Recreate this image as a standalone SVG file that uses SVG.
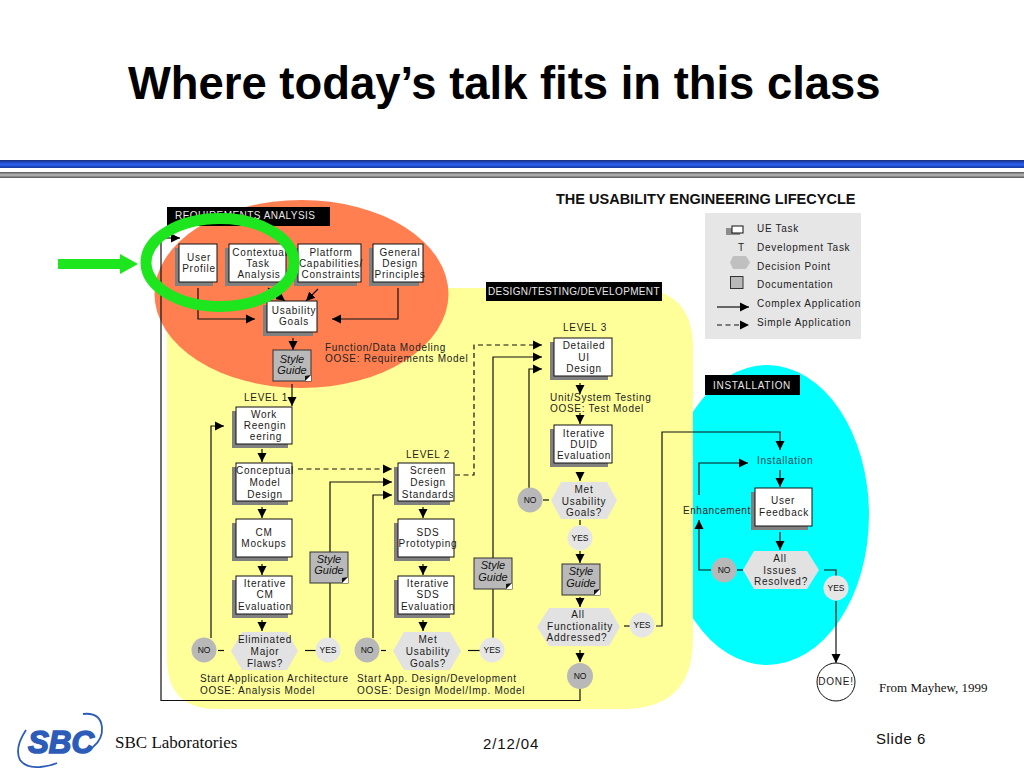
<svg xmlns="http://www.w3.org/2000/svg" width="1024" height="768" viewBox="0 0 1024 768">
<style>
text{font-family:"Liberation Sans",Arial,sans-serif}
.t{font-size:10px;letter-spacing:.75px;text-anchor:middle;fill:#1a1a1a}
.l{font-size:10px;letter-spacing:.7px;fill:#222}
.k{font-size:10px;letter-spacing:.45px;fill:#e8e8e8}
.s{font-size:11px;font-style:italic;text-anchor:middle;fill:#111}
.d{font-size:8.5px;text-anchor:middle;fill:#111}
.sh{fill:#808080}
.b{fill:#fff;stroke:#111;stroke-width:1}
.h{fill:#e2e2e2}
.no{fill:#b8b8b8}
.yes{fill:#e6e6e6}
.c{fill:none;stroke:#111;stroke-width:1.2}
.a{marker-end:url(#ah)}
.dash{stroke-dasharray:5 3.5}
</style>
<defs>
<linearGradient id="blue" x1="0" y1="0" x2="0" y2="1">
<stop offset="0" stop-color="#14307e"/><stop offset=".55" stop-color="#2d60f4"/><stop offset="1" stop-color="#163a9e"/>
</linearGradient>
<linearGradient id="gray" x1="0" y1="0" x2="0" y2="1">
<stop offset="0" stop-color="#555"/><stop offset=".5" stop-color="#bbb"/><stop offset="1" stop-color="#555"/>
</linearGradient>
<clipPath id="cy"><rect x="690" y="360" width="190" height="310"/></clipPath>
<marker id="ah" markerUnits="userSpaceOnUse" markerWidth="10" markerHeight="10" refX="9" refY="5" orient="auto"><path d="M0 .5L9 5L0 9.500Z" fill="#000"/></marker>
<g id="sg">
<rect x="0" y="0" width="38" height="31" fill="#b9b9b9" stroke="#333" stroke-width="1"/>
<path d="M38 25L38 31L32 31Z" fill="#fff"/><path d="M38 25L32 31L32 26Z" fill="#111"/>
</g>
</defs>
<rect width="1024" height="768" fill="#fff"/>
<text x="128" y="99" font-size="45.400" font-weight="bold" fill="#000">Where today’s talk fits in this class</text>
<rect x="0" y="160" width="1024" height="8" fill="url(#blue)"/>
<rect x="0" y="172" width="1024" height="6" fill="url(#gray)"/>
<text x="556" y="204" font-size="14.500" font-weight="bold" fill="#111">THE USABILITY ENGINEERING LIFECYCLE</text>

<g id="regions">
<ellipse cx="767" cy="515" rx="102" ry="150" fill="#00ffff" clip-path="url(#cy)"/>
<path d="M167 288H633Q693 288 693 348V639Q693 709 623 709H217Q167 709 167 659Z" fill="#ffff99"/>
<ellipse cx="301.500" cy="294" rx="147" ry="94" fill="#ff7f50"/>
<rect x="167" y="207" width="163" height="19" fill="#000"/>
<text class="k" x="175" y="219">REQUIREMENTS ANALYSIS</text>
<rect x="486" y="282" width="176" height="19" fill="#000"/>
<text class="k" x="488" y="295" style="letter-spacing:.35px">DESIGN/TESTING/DEVELOPMENT</text>
<rect x="705" y="375" width="95" height="20" fill="#000"/>
<text class="k" x="713" y="389" style="letter-spacing:.7px">INSTALLATION</text>
</g>

<g id="legend">
<rect x="705" y="213" width="156" height="126" fill="#e6e6e6"/>
<rect x="726" y="228" width="14" height="7" fill="#8c8c8c"/>
<rect x="732" y="226" width="11" height="7" class="b"/>
<text class="l" x="757" y="232">UE Task</text>
<text class="l" x="738" y="251">T</text>
<text class="l" x="757" y="251">Development  Task</text>
<path d="M733 256H746L750 262.500L746 269H733L730 262.500Z" fill="#c0c0c0"/>
<text class="l" x="757" y="270">Decision Point</text>
<rect x="730.500" y="276.500" width="12.500" height="12" fill="#b9b9b9" stroke="#333"/>
<text class="l" x="757" y="288">Documentation</text>
<line class="c a" x1="717" y1="307" x2="749" y2="307"/>
<text class="l" x="757" y="307">Complex Application</text>
<line class="c a dash" x1="717" y1="325" x2="749" y2="325"/>
<text class="l" x="757" y="326">Simple Application</text>
</g>

<g id="connectors">
<path class="c" d="M580 689V700.500H161V238"/>
<line class="c a" x1="161" y1="238" x2="180" y2="238"/>
<path class="c a" d="M198 288V319H255"/>
<path class="c a" d="M398 288V319H332"/>
<line class="c a" x1="268" y1="288" x2="285" y2="301"/>
<line class="c a" x1="318" y1="289" x2="306" y2="301"/>
<line class="c a" x1="293" y1="338" x2="293" y2="350"/>
<line class="c a" x1="292" y1="384" x2="292" y2="406"/>
<line class="c a" x1="262" y1="449" x2="262" y2="462"/>
<line class="c a" x1="262" y1="507" x2="262" y2="518"/>
<line class="c a" x1="262" y1="564" x2="262" y2="575"/>
<line class="c a" x1="262" y1="620" x2="262" y2="631"/>
<path class="c a" d="M211 638V426H224"/>
<line class="c" x1="218" y1="650.500" x2="224" y2="650.500"/>
<line class="c" x1="305" y1="650.500" x2="316" y2="650.500"/>
<path class="c a" d="M330 638V482H392"/>
<path class="c a" d="M373 638V495H392"/>
<line class="c a dash" x1="298" y1="469" x2="392" y2="469"/>
<path class="c a dash" d="M455 475H474V345H542"/>
<line class="c a" x1="423" y1="507" x2="423" y2="518"/>
<line class="c a" x1="423" y1="564" x2="423" y2="575"/>
<line class="c a" x1="423" y1="620" x2="423" y2="631"/>
<line class="c" x1="381" y1="650.500" x2="386" y2="650.500"/>
<line class="c" x1="468" y1="650.500" x2="480" y2="650.500"/>
<path class="c a" d="M493 638V357H542"/>
<path class="c a" d="M529 488V369H542"/>
<line class="c" x1="543" y1="500" x2="549" y2="500"/>
<line class="c a" x1="580" y1="383" x2="580" y2="394"/>
<line class="c a" x1="580" y1="413" x2="580" y2="424"/>
<line class="c a" x1="580" y1="472" x2="580" y2="481"/>
<line class="c" x1="580" y1="520" x2="580" y2="525"/>
<line class="c a" x1="580" y1="551" x2="580" y2="563"/>
<line class="c a" x1="580" y1="597" x2="580" y2="607"/>
<line class="c a" x1="580" y1="650" x2="580" y2="662"/>
<line class="c" x1="624" y1="626" x2="630" y2="626"/>
<path class="c a" d="M656 626H662V432H780V450"/>
<line class="c a" x1="780" y1="470" x2="780" y2="487"/>
<line class="c a" x1="780" y1="532" x2="780" y2="550"/>
<line class="c" x1="737" y1="570" x2="743" y2="570"/>
<path class="c a" d="M711 570H699V520"/>
<path class="c a" d="M699 495V463H748"/>
<path class="c" d="M824 570H836V576"/>
<line class="c a" x1="836" y1="601" x2="836" y2="663"/>
</g>

<g id="user-profile"><rect class="sh" x="175" y="248" width="38" height="38"/><rect class="b" x="179" y="244" width="38" height="38"/><text class="t" x="199" y="261">User</text><text class="t" x="199" y="272">Profile</text></g>
<g id="contextual-task"><rect class="sh" x="225" y="248" width="57" height="38"/><rect class="b" x="229" y="244" width="57" height="38"/><text class="t" x="260" y="256">Contextual</text><text class="t" x="258" y="267">Task</text><text class="t" x="259" y="278">Analysis</text></g>
<g id="platform"><rect class="sh" x="294" y="248" width="63" height="38"/><rect class="b" x="298" y="244" width="63" height="38"/><text class="t" x="331" y="256">Platform</text><text class="t" x="331" y="267">Capabilities/</text><text class="t" x="331" y="278">Constraints</text></g>
<g id="general-design"><rect class="sh" x="369" y="248" width="50" height="38"/><rect class="b" x="373" y="244" width="50" height="38"/><text class="t" x="400" y="256">General</text><text class="t" x="400" y="267">Design</text><text class="t" x="400" y="278">Principles</text></g>
<g id="usability-goals"><rect class="sh" x="263" y="305" width="50" height="31"/><rect class="b" x="267" y="301" width="50" height="31"/><text class="t" x="294" y="314">Usability</text><text class="t" x="294" y="325">Goals</text></g>
<g id="style-guide-1"><use href="#sg" x="273" y="350"/><text class="s" x="292" y="363">Style</text><text class="s" x="292" y="374">Guide</text></g>
<text class="l" x="325" y="351">Function/Data Modeling</text>
<text class="l" x="325" y="362">OOSE:  Requirements Model</text>

<text class="l" x="244" y="401">LEVEL 1</text>
<g id="work-reengineering"><rect class="sh" x="232" y="411" width="56" height="37"/><rect class="b" x="236" y="407" width="56" height="37"/><text class="t" x="264" y="418">Work</text><text class="t" x="265" y="429">Reengin</text><text class="t" x="266" y="440">eering</text></g>
<g id="conceptual-model"><rect class="sh" x="232" y="467" width="56" height="38"/><rect class="b" x="236" y="463" width="56" height="38"/><text class="t" x="265" y="474">Conceptual</text><text class="t" x="265" y="486">Model</text><text class="t" x="265" y="498">Design</text></g>
<g id="cm-mockups"><rect class="sh" x="232" y="523" width="56" height="38"/><rect class="b" x="236" y="519" width="56" height="38"/><text class="t" x="264" y="536">CM</text><text class="t" x="264" y="547">Mockups</text></g>
<g id="iterative-cm"><rect class="sh" x="232" y="580" width="56" height="38"/><rect class="b" x="236" y="576" width="56" height="38"/><text class="t" x="265" y="587">Iterative</text><text class="t" x="265" y="598">CM</text><text class="t" x="265" y="610">Evaluation</text></g>
<g id="eliminated-flaws"><path class="h" d="M242 632H287L298 651L287 670H242L231 651Z"/><text class="t" x="265" y="643">Eliminated</text><text class="t" x="265" y="655">Major</text><text class="t" x="265" y="667">Flaws?</text></g>
<g id="no-1"><circle class="no" cx="204" cy="650" r="12.500"/><text class="d" x="204" y="653">NO</text></g>
<g id="yes-1"><circle class="yes" cx="328" cy="650" r="12.500"/><text class="d" x="328" y="653">YES</text></g>
<g id="style-guide-2"><use href="#sg" x="310" y="552"/><text class="s" x="329" y="563">Style</text><text class="s" x="329" y="574">Guide</text></g>

<text class="l" x="406" y="458">LEVEL 2</text>
<g id="screen-design"><rect class="sh" x="394" y="467" width="56" height="38"/><rect class="b" x="398" y="463" width="56" height="38"/><text class="t" x="428" y="474">Screen</text><text class="t" x="428" y="486">Design</text><text class="t" x="428" y="498">Standards</text></g>
<g id="sds-prototyping"><rect class="sh" x="394" y="523" width="56" height="38"/><rect class="b" x="398" y="519" width="56" height="38"/><text class="t" x="428" y="536">SDS</text><text class="t" x="428" y="547">Prototyping</text></g>
<g id="iterative-sds"><rect class="sh" x="394" y="580" width="56" height="38"/><rect class="b" x="398" y="576" width="56" height="38"/><text class="t" x="428" y="587">Iterative</text><text class="t" x="428" y="598">SDS</text><text class="t" x="428" y="610">Evaluation</text></g>
<g id="met-goals-2"><path class="h" d="M404 632H450L461 651L450 670H404L393 651Z"/><text class="t" x="428" y="643">Met</text><text class="t" x="428" y="655">Usability</text><text class="t" x="428" y="667">Goals?</text></g>
<g id="no-2"><circle class="no" cx="367" cy="650" r="12.500"/><text class="d" x="367" y="653">NO</text></g>
<g id="yes-2"><circle class="yes" cx="492" cy="650" r="12.500"/><text class="d" x="492" y="653">YES</text></g>
<g id="style-guide-3"><use href="#sg" x="474" y="558"/><text class="s" x="493" y="569">Style</text><text class="s" x="493" y="581">Guide</text></g>
<text class="l" x="200" y="682">Start  Application Architecture</text>
<text class="l" x="200" y="694">OOSE:  Analysis Model</text>
<text class="l" x="357" y="682">Start  App. Design/Development</text>
<text class="l" x="357" y="694">OOSE:  Design Model/Imp. Model</text>

<text class="l" x="563" y="331">LEVEL 3</text>
<g id="detailed-ui"><rect class="sh" x="550" y="342" width="58" height="38"/><rect class="b" x="554" y="338" width="58" height="38"/><text class="t" x="584" y="349">Detailed</text><text class="t" x="584" y="361">UI</text><text class="t" x="584" y="372">Design</text></g>
<text class="l" x="550" y="401">Unit/System Testing</text>
<text class="l" x="550" y="412">OOSE:  Test Model</text>
<g id="iterative-duid"><rect class="sh" x="550" y="429" width="58" height="38"/><rect class="b" x="554" y="425" width="58" height="38"/><text class="t" x="584" y="437">Iterative</text><text class="t" x="584" y="448">DUID</text><text class="t" x="584" y="459">Evaluation</text></g>
<g id="met-goals-3"><path class="h" d="M561 482H607L617 500.500L607 519H561L551 500.500Z"/><text class="t" x="584" y="493">Met</text><text class="t" x="584" y="505">Usability</text><text class="t" x="584" y="516">Goals?</text></g>
<g id="no-3"><circle class="no" cx="530" cy="500" r="12.500"/><text class="d" x="530" y="503">NO</text></g>
<g id="yes-3"><circle class="yes" cx="580" cy="538" r="12.500"/><text class="d" x="580" y="541">YES</text></g>
<g id="style-guide-4"><use href="#sg" x="562" y="564"/><text class="s" x="581" y="575">Style</text><text class="s" x="581" y="587">Guide</text></g>
<g id="all-functionality"><path class="h" d="M549 608H609L620 627L609 646H549L537 627Z"/><text class="t" x="578" y="618">All</text><text class="t" x="580" y="630">Functionality</text><text class="t" x="577" y="641">Addressed?</text></g>
<g id="yes-4"><circle class="yes" cx="642" cy="625" r="12.500"/><text class="d" x="642" y="628">YES</text></g>
<g id="no-4"><circle class="no" cx="580" cy="676" r="13"/><text class="d" x="580" y="679">NO</text></g>

<g id="installation"><text class="l" x="757" y="464" style="fill:#014a55">Installation</text></g>
<text class="l" x="683" y="514" style="letter-spacing:.55px">Enhancements</text>
<g id="user-feedback"><rect class="sh" x="751" y="492" width="57" height="38"/><rect class="b" x="755" y="488" width="57" height="38"/><text class="t" x="783" y="504">User</text><text class="t" x="784" y="516">Feedback</text></g>
<g id="all-issues"><path class="h" d="M754 551H807L819 570L807 589H754L743 570Z"/><text class="t" x="780" y="562">All</text><text class="t" x="780" y="574">Issues</text><text class="t" x="781" y="585">Resolved?</text></g>
<g id="no-5"><circle class="no" cx="724" cy="570" r="12.500"/><text class="d" x="724" y="573">NO</text></g>
<g id="yes-5"><circle class="yes" cx="836" cy="588" r="12.500"/><text class="d" x="836" y="591">YES</text></g>
<g id="done"><circle cx="836" cy="682" r="19" fill="#fff" stroke="#111" stroke-width="1"/><text class="t" x="836" y="685">DONE!</text></g>
<text x="879" y="692" font-size="13" style="font-family:'Liberation Serif',serif" fill="#111">From Mayhew, 1999</text>

<g id="highlight">
<ellipse cx="220" cy="262.500" rx="74" ry="44" fill="none" stroke="#1ee61e" stroke-width="11"/>
<path d="M58 259H120V254L138 264L120 274V269H58Z" fill="#1ee61e"/>
</g>

<g id="footer">
<path d="M83 714Q100 712 102 727Q103 739 93 747" fill="none" stroke="#2c5cb8" stroke-width="1.800"/>
<path d="M26 730Q14 748 20 760Q26 768 40 767Q50 766 57 763" fill="none" stroke="#2c5cb8" stroke-width="1.800"/>
<text x="28" y="753" font-size="31" font-weight="bold" font-style="italic" fill="#2c5cb8" stroke="#2c5cb8" stroke-width="1.500" textLength="66" lengthAdjust="spacingAndGlyphs">SBC</text>
<text x="115" y="748" font-size="17" style="font-family:'Liberation Serif',serif" fill="#111">SBC Laboratories</text>
<text x="483" y="749" font-size="15" letter-spacing=".9" fill="#111">2/12/04</text>
<text x="876" y="744" font-size="15" letter-spacing=".6" fill="#111">Slide 6</text>
</g>
</svg>
